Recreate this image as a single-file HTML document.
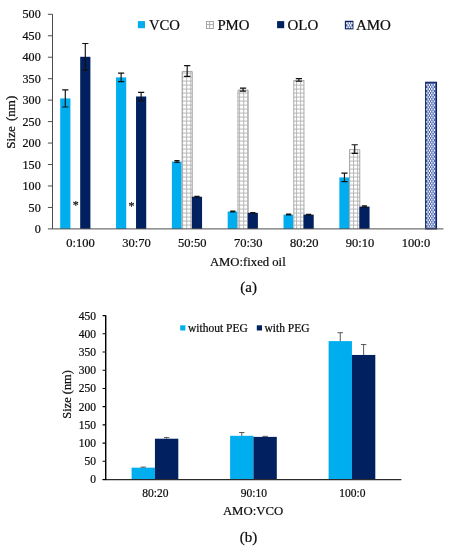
<!DOCTYPE html>
<html lang="en"><head><meta charset="utf-8"><title>Figure</title>
<style>html,body{margin:0;padding:0;background:#fff;}svg{display:block;}text{stroke-width:0.22px;}</style>
</head><body>
<svg width="450" height="550" viewBox="0 0 450 550" font-family="'Liberation Serif', 'Times New Roman', serif" fill="#0d0d0d" stroke="#0d0d0d" stroke-width="0">
<defs>
</defs>
<rect width="450" height="550" fill="#fff" stroke="none"/>
<rect x="60.20" y="98.42" width="10.20" height="130.48" fill="#00AEEF" stroke="none"/>
<rect x="80.20" y="56.79" width="10.20" height="172.11" fill="#00205F" stroke="none"/>
<rect x="116.03" y="77.39" width="10.20" height="151.51" fill="#00AEEF" stroke="none"/>
<rect x="136.03" y="96.49" width="10.20" height="132.41" fill="#00205F" stroke="none"/>
<rect x="171.86" y="161.52" width="10.20" height="67.38" fill="#00AEEF" stroke="none"/>
<rect x="181.66" y="70.95" width="11.10" height="157.95" fill="#fff" stroke="none"/><path d="M181.66 73.10H192.76M181.66 77.10H192.76M181.66 81.10H192.76M181.66 85.10H192.76M181.66 89.10H192.76M181.66 93.10H192.76M181.66 97.10H192.76M181.66 101.10H192.76M181.66 105.10H192.76M181.66 109.10H192.76M181.66 113.10H192.76M181.66 117.10H192.76M181.66 121.10H192.76M181.66 125.10H192.76M181.66 129.10H192.76M181.66 133.10H192.76M181.66 137.10H192.76M181.66 141.10H192.76M181.66 145.10H192.76M181.66 149.10H192.76M181.66 153.10H192.76M181.66 157.10H192.76M181.66 161.10H192.76M181.66 165.10H192.76M181.66 169.10H192.76M181.66 173.10H192.76M181.66 177.10H192.76M181.66 181.10H192.76M181.66 185.10H192.76M181.66 189.10H192.76M181.66 193.10H192.76M181.66 197.10H192.76M181.66 201.10H192.76M181.66 205.10H192.76M181.66 209.10H192.76M181.66 213.10H192.76M181.66 217.10H192.76M181.66 221.10H192.76M181.66 225.10H192.76M182.63 70.95V228.90M186.70 70.95V228.90M190.77 70.95V228.90" stroke="#b4b4b4" stroke-width="0.95" fill="none"/><path d="M182.16 228.90V71.45H192.26V228.90" stroke="#a9a9a9" stroke-width="1" fill="none"/>
<rect x="191.86" y="196.71" width="10.20" height="32.19" fill="#00205F" stroke="none"/>
<rect x="227.69" y="211.52" width="10.20" height="17.38" fill="#00AEEF" stroke="none"/>
<rect x="237.49" y="89.62" width="11.10" height="139.28" fill="#fff" stroke="none"/><path d="M237.49 93.10H248.59M237.49 97.10H248.59M237.49 101.10H248.59M237.49 105.10H248.59M237.49 109.10H248.59M237.49 113.10H248.59M237.49 117.10H248.59M237.49 121.10H248.59M237.49 125.10H248.59M237.49 129.10H248.59M237.49 133.10H248.59M237.49 137.10H248.59M237.49 141.10H248.59M237.49 145.10H248.59M237.49 149.10H248.59M237.49 153.10H248.59M237.49 157.10H248.59M237.49 161.10H248.59M237.49 165.10H248.59M237.49 169.10H248.59M237.49 173.10H248.59M237.49 177.10H248.59M237.49 181.10H248.59M237.49 185.10H248.59M237.49 189.10H248.59M237.49 193.10H248.59M237.49 197.10H248.59M237.49 201.10H248.59M237.49 205.10H248.59M237.49 209.10H248.59M237.49 213.10H248.59M237.49 217.10H248.59M237.49 221.10H248.59M237.49 225.10H248.59M239.61 89.62V228.90M243.68 89.62V228.90M247.75 89.62V228.90" stroke="#b4b4b4" stroke-width="0.95" fill="none"/><path d="M237.99 228.90V90.12H248.09V228.90" stroke="#a9a9a9" stroke-width="1" fill="none"/>
<rect x="247.69" y="212.81" width="10.20" height="16.09" fill="#00205F" stroke="none"/>
<rect x="283.52" y="214.61" width="10.20" height="14.29" fill="#00AEEF" stroke="none"/>
<rect x="293.32" y="79.97" width="11.10" height="148.93" fill="#fff" stroke="none"/><path d="M293.32 81.10H304.42M293.32 85.10H304.42M293.32 89.10H304.42M293.32 93.10H304.42M293.32 97.10H304.42M293.32 101.10H304.42M293.32 105.10H304.42M293.32 109.10H304.42M293.32 113.10H304.42M293.32 117.10H304.42M293.32 121.10H304.42M293.32 125.10H304.42M293.32 129.10H304.42M293.32 133.10H304.42M293.32 137.10H304.42M293.32 141.10H304.42M293.32 145.10H304.42M293.32 149.10H304.42M293.32 153.10H304.42M293.32 157.10H304.42M293.32 161.10H304.42M293.32 165.10H304.42M293.32 169.10H304.42M293.32 173.10H304.42M293.32 177.10H304.42M293.32 181.10H304.42M293.32 185.10H304.42M293.32 189.10H304.42M293.32 193.10H304.42M293.32 197.10H304.42M293.32 201.10H304.42M293.32 205.10H304.42M293.32 209.10H304.42M293.32 213.10H304.42M293.32 217.10H304.42M293.32 221.10H304.42M293.32 225.10H304.42M296.59 79.97V228.90M300.66 79.97V228.90" stroke="#b4b4b4" stroke-width="0.95" fill="none"/><path d="M293.82 228.90V80.47H303.92V228.90" stroke="#a9a9a9" stroke-width="1" fill="none"/>
<rect x="303.52" y="214.61" width="10.20" height="14.29" fill="#00205F" stroke="none"/>
<rect x="339.35" y="177.40" width="10.20" height="51.50" fill="#00AEEF" stroke="none"/>
<rect x="349.15" y="149.07" width="11.10" height="79.83" fill="#fff" stroke="none"/><path d="M349.15 153.10H360.25M349.15 157.10H360.25M349.15 161.10H360.25M349.15 165.10H360.25M349.15 169.10H360.25M349.15 173.10H360.25M349.15 177.10H360.25M349.15 181.10H360.25M349.15 185.10H360.25M349.15 189.10H360.25M349.15 193.10H360.25M349.15 197.10H360.25M349.15 201.10H360.25M349.15 205.10H360.25M349.15 209.10H360.25M349.15 213.10H360.25M349.15 217.10H360.25M349.15 221.10H360.25M349.15 225.10H360.25M349.50 149.07V228.90M353.57 149.07V228.90M357.64 149.07V228.90" stroke="#b4b4b4" stroke-width="0.95" fill="none"/><path d="M349.65 228.90V149.57H359.75V228.90" stroke="#a9a9a9" stroke-width="1" fill="none"/>
<rect x="359.35" y="206.58" width="10.20" height="22.32" fill="#00205F" stroke="none"/>
<rect x="425.68" y="82.28" width="10.80" height="146.62" fill="#4a63ad" stroke="#10225f" stroke-width="1.15"/>
<path d="M426.93 83.98V228.10M429.39 83.98V228.10M431.85 83.98V228.10M434.31 83.98V228.10" stroke="#fff" stroke-width="1.25" stroke-dasharray="1.8 2.3" fill="none"/>
<path d="M428.16 86.03V228.10M430.62 86.03V228.10M433.08 86.03V228.10" stroke="#fff" stroke-width="1.25" stroke-dasharray="1.8 2.3" fill="none"/>
<path d="M65.30 89.84V107.01M62.20 89.84H68.40M62.20 107.01H68.40M85.30 43.49V70.10M82.20 43.49H88.40M82.20 70.10H88.40M121.13 73.10V81.68M118.03 73.10H124.23M118.03 81.68H124.23M141.13 92.41V100.57M138.03 92.41H144.23M138.03 100.57H144.23M176.96 160.66V162.37M174.36 160.66H179.56M174.36 162.37H179.56M187.21 65.59V76.32M184.11 65.59H190.31M184.11 76.32H190.31M196.96 196.28V197.14M194.36 196.28H199.56M194.36 197.14H199.56M232.79 211.09V211.95M230.19 211.09H235.39M230.19 211.95H235.39M243.04 88.12V91.13M239.94 88.12H246.14M239.94 91.13H246.14M252.79 212.46V213.15M250.19 212.46H255.39M250.19 213.15H255.39M288.62 214.18V215.04M286.02 214.18H291.22M286.02 215.04H291.22M298.87 78.68V81.26M295.77 78.68H301.97M295.77 81.26H301.97M308.62 214.26V214.95M306.02 214.26H311.22M306.02 214.95H311.22M344.45 173.10V181.69M341.35 173.10H347.55M341.35 181.69H347.55M354.70 144.78V153.36M351.60 144.78H357.80M351.60 153.36H357.80M364.45 205.94V207.23M361.85 205.94H367.05M361.85 207.23H367.05" stroke="#111" stroke-width="1.15" fill="none"/>
<path d="M52.5 14.2V228.9H443.5" stroke="#4d4d4d" stroke-width="1" fill="none"/>
<text x="40.7" y="233.00" font-size="12.1" text-anchor="end">0</text>
<text x="40.7" y="211.54" font-size="12.1" text-anchor="end">50</text>
<text x="40.7" y="190.08" font-size="12.1" text-anchor="end">100</text>
<text x="40.7" y="168.62" font-size="12.1" text-anchor="end">150</text>
<text x="40.7" y="147.16" font-size="12.1" text-anchor="end">200</text>
<text x="40.7" y="125.70" font-size="12.1" text-anchor="end">250</text>
<text x="40.7" y="104.24" font-size="12.1" text-anchor="end">300</text>
<text x="40.7" y="82.78" font-size="12.1" text-anchor="end">350</text>
<text x="40.7" y="61.32" font-size="12.1" text-anchor="end">400</text>
<text x="40.7" y="39.86" font-size="12.1" text-anchor="end">450</text>
<text x="40.7" y="18.40" font-size="12.1" text-anchor="end">500</text>
<path d="M47.90 228.90H52.5M47.90 207.44H52.5M47.90 185.98H52.5M47.90 164.52H52.5M47.90 143.06H52.5M47.90 121.60H52.5M47.90 100.14H52.5M47.90 78.68H52.5M47.90 57.22H52.5M47.90 35.76H52.5M47.90 14.30H52.5" stroke="#4d4d4d" stroke-width="1" fill="none"/>
<text x="80.50" y="247.3" font-size="12.5" text-anchor="middle">0:100</text>
<text x="136.42" y="247.3" font-size="12.5" text-anchor="middle">30:70</text>
<text x="192.34" y="247.3" font-size="12.5" text-anchor="middle">50:50</text>
<text x="248.26" y="247.3" font-size="12.5" text-anchor="middle">70:30</text>
<text x="304.18" y="247.3" font-size="12.5" text-anchor="middle">80:20</text>
<text x="360.10" y="247.3" font-size="12.5" text-anchor="middle">90:10</text>
<text x="416.02" y="247.3" font-size="12.5" text-anchor="middle">100:0</text>
<text x="247.8" y="266.3" font-size="12.7" text-anchor="middle">AMO:fixed oil</text>
<text x="248.7" y="292" font-size="15" text-anchor="middle">(a)</text>
<text transform="translate(14.6 122.2) rotate(-90)" font-size="13" text-anchor="middle" word-spacing="2">Size (nm)</text>
<text x="75.7" y="208.5" font-size="12" text-anchor="middle">*</text>
<text x="131.4" y="209.7" font-size="12" text-anchor="middle">*</text>
<rect x="137.9" y="21.1" width="7.1" height="7.1" fill="#00AEEF" stroke="none"/>
<text x="148.9" y="29.6" font-size="14.7">VCO</text>
<rect x="206.5" y="21.5" width="6.9" height="7" fill="#fff" stroke="#a3a3a3" stroke-width="1"/><path d="M209.6 21.5v7M206.5 24.6h6.9" stroke="#adadad" stroke-width="1"/>
<text x="217.4" y="29.6" font-size="14.8">PMO</text>
<rect x="277.1" y="21.1" width="7.1" height="7.1" fill="#00205F" stroke="none"/>
<text x="287.5" y="29.6" font-size="14.95">OLO</text>
<rect x="345.5" y="21.4" width="7.3" height="7.3" fill="#566eb4" stroke="#10225f" stroke-width="1.3"/>
<path d="M346.9 22.3V28.2M349.36 22.3V28.2M351.82 22.3V28.2" stroke="#fff" stroke-width="1.45" stroke-dasharray="1.95 2.15" fill="none"/>
<path d="M348.13 24.35V28.2M350.59 24.35V28.2" stroke="#fff" stroke-width="1.45" stroke-dasharray="1.95 2.15" fill="none"/>
<text x="355.9" y="29.6" font-size="15">AMO</text>
<rect x="131.60" y="467.66" width="23.35" height="11.84" fill="#00AEEF" stroke="none"/>
<rect x="154.95" y="438.71" width="23.35" height="40.79" fill="#00205F" stroke="none"/>
<rect x="230.10" y="435.80" width="23.35" height="43.70" fill="#00AEEF" stroke="none"/>
<rect x="253.45" y="436.89" width="23.35" height="42.61" fill="#00205F" stroke="none"/>
<rect x="328.60" y="341.10" width="23.35" height="138.40" fill="#00AEEF" stroke="none"/>
<rect x="351.95" y="354.94" width="23.35" height="124.56" fill="#00205F" stroke="none"/>
<path d="M143.28 467.66V467.12M140.58 467.12H145.97M166.62 438.71V437.62M163.93 437.62H169.32M241.78 435.80V432.52M239.08 432.52H244.47M265.12 436.89V436.34M262.43 436.34H267.82M340.27 341.10V332.73M337.57 332.73H342.97M363.62 354.94V344.56M360.93 344.56H366.32" stroke="#444" stroke-width="0.9" fill="none"/>
<path d="M102.60 479.65H401.4" stroke="#2b2b2b" stroke-width="1.1" fill="none"/>
<path d="M105.7 315.3V480.10" stroke="#000" stroke-width="1.45" fill="none"/>
<text x="96.1" y="483.40" font-size="11.5" text-anchor="end">0</text>
<text x="96.1" y="465.19" font-size="11.5" text-anchor="end">50</text>
<text x="96.1" y="446.98" font-size="11.5" text-anchor="end">100</text>
<text x="96.1" y="428.77" font-size="11.5" text-anchor="end">150</text>
<text x="96.1" y="410.56" font-size="11.5" text-anchor="end">200</text>
<text x="96.1" y="392.35" font-size="11.5" text-anchor="end">250</text>
<text x="96.1" y="374.14" font-size="11.5" text-anchor="end">300</text>
<text x="96.1" y="355.93" font-size="11.5" text-anchor="end">350</text>
<text x="96.1" y="337.72" font-size="11.5" text-anchor="end">400</text>
<text x="96.1" y="319.51" font-size="11.5" text-anchor="end">450</text>
<path d="M102.60 479.50H105.7M102.60 461.29H105.7M102.60 443.08H105.7M102.60 424.87H105.7M102.60 406.66H105.7M102.60 388.45H105.7M102.60 370.24H105.7M102.60 352.03H105.7M102.60 333.82H105.7M102.60 315.61H105.7" stroke="#000" stroke-width="1.1" fill="none"/>
<text x="155.35" y="497" font-size="11.5" text-anchor="middle">80:20</text>
<text x="253.85" y="497" font-size="11.5" text-anchor="middle">90:10</text>
<text x="352.35" y="497" font-size="11.5" text-anchor="middle">100:0</text>
<text x="253" y="515.4" font-size="12.75" text-anchor="middle">AMO:VCO</text>
<text x="248.5" y="541.5" font-size="15" text-anchor="middle">(b)</text>
<text transform="translate(70.8 394.4) rotate(-90)" font-size="12.4" text-anchor="middle">Size (nm)</text>
<rect x="180.2" y="325.3" width="5.2" height="5.2" fill="#00AEEF" stroke="none"/>
<text x="188" y="331.5" font-size="11.5">without PEG</text>
<rect x="256.8" y="325.3" width="5.2" height="5.2" fill="#00205F" stroke="none"/>
<text x="264.5" y="331.5" font-size="11.5">with PEG</text>
</svg>
</body></html>
